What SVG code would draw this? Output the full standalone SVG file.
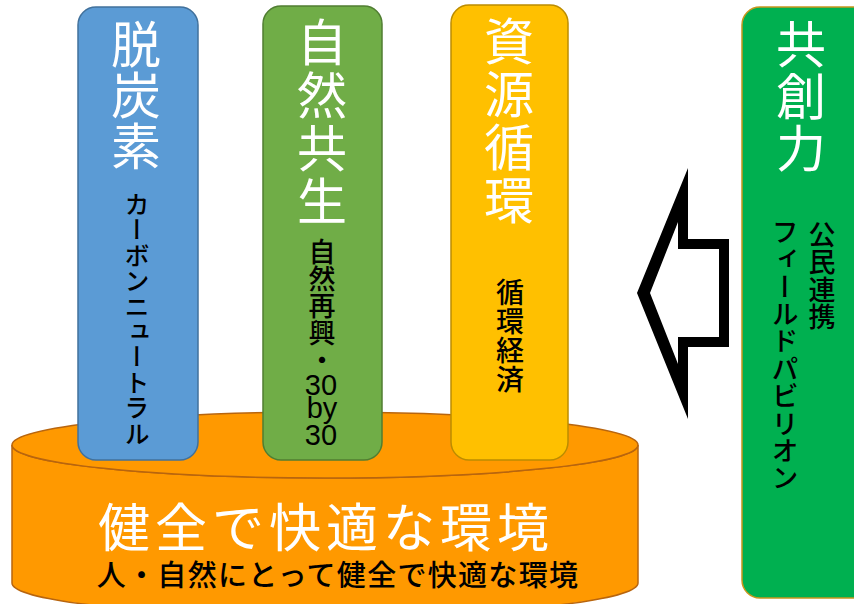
<svg xmlns="http://www.w3.org/2000/svg" width="854" height="604" viewBox="0 0 854 604">
<style>
  .cjk { font-family: "Noto Sans CJK JP", "Noto Sans", sans-serif; }
  .vt { writing-mode: vertical-rl; }
  .title { fill: #ffffff; font-size: 50px; }
  .sub { fill: #000000; font-size: 27px; font-weight: 500; }
  .pillar { stroke-width: 1.5; }
  .num { font-family: "Liberation Sans", Arial, sans-serif; font-size: 29px; fill: #000000; text-anchor: middle; }
</style>
<rect width="854" height="604" fill="#ffffff"/>

<g id="base">
  <path d="M12,445 V583 A313,33 0 0 0 638,583 V445 A313,33 0 0 1 12,445 Z" fill="#FF9900" stroke="#B8650E" stroke-width="1.5"/>
  <ellipse cx="325" cy="445" rx="313" ry="33" fill="#FF9900" stroke="#B8650E" stroke-width="1.5"/>
  <text class="cjk" x="326" y="547" font-size="52" letter-spacing="5" fill="#ffffff" text-anchor="middle">健全で快適な環境</text>
  <text class="cjk" x="338" y="586" font-size="29" letter-spacing="1.3" font-weight="500" fill="#000000" text-anchor="middle">人・自然にとって健全で快適な環境</text>
</g>

<g id="pillar-datsutanso">
  <rect class="pillar" x="78" y="7" width="120" height="453" rx="18" fill="#5B9BD5" stroke="#41719C"/>
  <text class="cjk vt title" x="136" y="19" letter-spacing="1">脱炭素</text>
  <text class="cjk vt sub" x="137" y="192" letter-spacing="0.4" style="font-size:25px">カーボンニュートラル</text>
</g>

<g id="pillar-shizenkyosei">
  <rect class="pillar" x="263" y="6" width="119" height="454" rx="18" fill="#70AD47" stroke="#507E32"/>
  <text class="cjk vt title" x="322" y="17" letter-spacing="3">自然共生</text>
  <text class="cjk vt sub" x="322" y="238">自然再興・</text>
  <text class="num"><tspan x="321" y="395">30</tspan><tspan x="322" y="418">by</tspan><tspan x="321" y="445">30</tspan></text>
</g>

<g id="pillar-shigenjunkan">
  <rect class="pillar" x="451" y="5" width="117" height="455" rx="18" fill="#FFC000" stroke="#BC8C00"/>
  <text class="cjk vt title" x="509" y="16" letter-spacing="3">資源循環</text>
  <text class="cjk vt sub" x="510" y="278" letter-spacing="1" style="font-size:28px">循環経済</text>
</g>

<g id="kyosoryoku">
  <rect x="742" y="7" width="140" height="591" rx="18" fill="#00B050" stroke="#C8961E" stroke-width="1.5"/>
  <text class="cjk vt title" x="801" y="19" letter-spacing="2">共創力</text>
  <text class="cjk vt sub" x="822" y="221" letter-spacing="0.5">公民連携</text>
  <text class="cjk vt sub" x="785" y="218" letter-spacing="0.4">フィールドパビリオン</text>
</g>

<g id="connectors">
  <path d="M637,293 L688,168 L688,239 L729,239 L729,347 L688,347 L688,419 Z" fill="#000000"/>
  <path d="M650,293 L678,222 L678,249 L719,249 L719,337 L678,337 L678,364 Z" fill="#ffffff"/>
</g>
</svg>
